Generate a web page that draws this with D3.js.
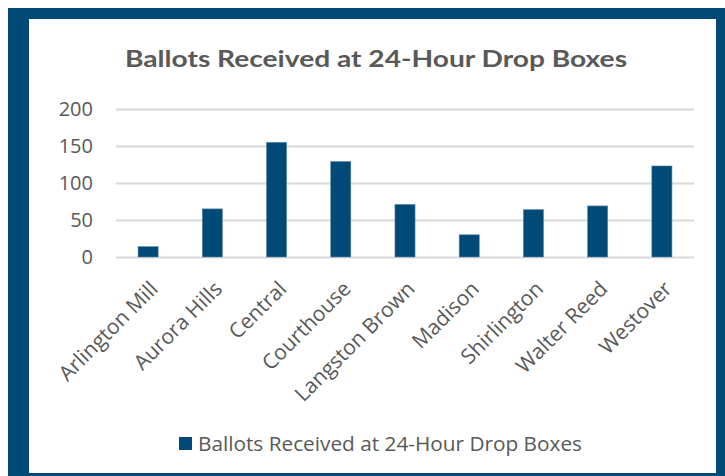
<!DOCTYPE html>
<html>
<head>
<meta charset="utf-8">
<script src="https://cdn.jsdelivr.net/npm/d3@7"></script>
<style>
  html, body { margin: 0; padding: 0; background: #fff; }
  svg { display: block; }
</style>
</head>
<body>
<svg id="chart"></svg>
<script>
var width = 725;
var height = 476;

// data
var sites = ["Arlington Mill", "Aurora Hills", "Central", "Courthouse", "Langston Brown",
             "Madison", "Shirlington", "Walter Reed", "Westover"];
var ballots = [14, 65, 155, 129, 71, 30, 64, 69, 123];
var yTicks = [0, 50, 100, 150, 200];
var chartTitle = "Ballots Received at 24-Hour Drop Boxes";
var seriesName = "Ballots Received at 24-Hour Drop Boxes";

var navy = "#014a78";
var grey = "#595959";

var svg = d3.select("#chart")
    .attr("width", width)
    .attr("height", height);

//----------------------------------------------------------------------------
// frame
//----------------------------------------------------------------------------
svg.append("rect")
    .attr("x", 8).attr("y", 8)
    .attr("width", width - 8).attr("height", height - 8)
    .attr("fill", navy);
svg.append("rect")
    .attr("x", 29).attr("y", 19)
    .attr("width", 687).attr("height", 454)
    .attr("fill", "#fff");

//----------------------------------------------------------------------------
// scales
//----------------------------------------------------------------------------
var x = d3.scaleBand()
    .domain(sites)
    .range([116, 694])
    .paddingInner(0.687)
    .paddingOuter(0.3435);

var y = d3.scaleLinear()
    .domain([0, 200])
    .range([257, 109]);

// gridlines + y labels
var yAxis = d3.axisLeft(y)
    .tickValues(yTicks)
    .tickSize(-(694 - 116))
    .tickPadding(23)
    .tickFormat(d3.format("d"));

var gy = svg.append("g")
    .attr("transform", "translate(116,0)")
    .call(yAxis);
gy.select(".domain").remove();
gy.selectAll(".tick line")
    .attr("stroke", "#d9d9d9")
    .attr("stroke-width", 2);
gy.selectAll(".tick text")
    .attr("fill", grey)
    .style("font-family", "'Open Sans', sans-serif")
    .style("font-size", "20px");

// bars
svg.append("g")
    .selectAll("rect")
    .data(ballots)
    .join("rect")
    .attr("x", (d, i) => x(sites[i]))
    .attr("y", d => y(d))
    .attr("width", x.bandwidth())
    .attr("height", d => y(0) - y(d))
    .attr("fill", navy)
    .attr("stroke", "#5d88aa")
    .attr("stroke-width", 0.6);

// category labels
var xAxis = d3.axisBottom(x).tickSize(0).tickPadding(0);
var gx = svg.append("g")
    .attr("transform", "translate(0,257)")
    .call(xAxis);
gx.select(".domain").remove();
gx.selectAll(".tick text")
    .attr("fill", grey)
    .style("font-family", "'Open Sans', sans-serif")
    .style("font-size", "21px")
    .attr("text-anchor", "end")
    .attr("y", 0)
    .attr("dy", "0.35em")
    .attr("transform", "translate(6,28) rotate(-45)");

//----------------------------------------------------------------------------
// title + legend
//----------------------------------------------------------------------------
svg.append("text")
    .attr("x", 376)
    .attr("y", 67)
    .attr("text-anchor", "middle")
    .attr("fill", grey)
    .attr("textLength", 502)
    .attr("lengthAdjust", "spacingAndGlyphs")
    .style("font-family", "Lato, sans-serif")
    .style("font-weight", "bold")
    .style("font-size", "22px")
    .text(chartTitle);

svg.append("rect")
    .attr("x", 179).attr("y", 437)
    .attr("width", 13).attr("height", 13)
    .attr("fill", navy);
svg.append("text")
    .attr("x", 198)
    .attr("y", 450.5)
    .attr("fill", grey)
    .attr("textLength", 384)
    .attr("lengthAdjust", "spacingAndGlyphs")
    .style("font-family", "'Open Sans', sans-serif")
    .style("font-size", "20px")
    .text(seriesName);
</script>
</body>
</html>
